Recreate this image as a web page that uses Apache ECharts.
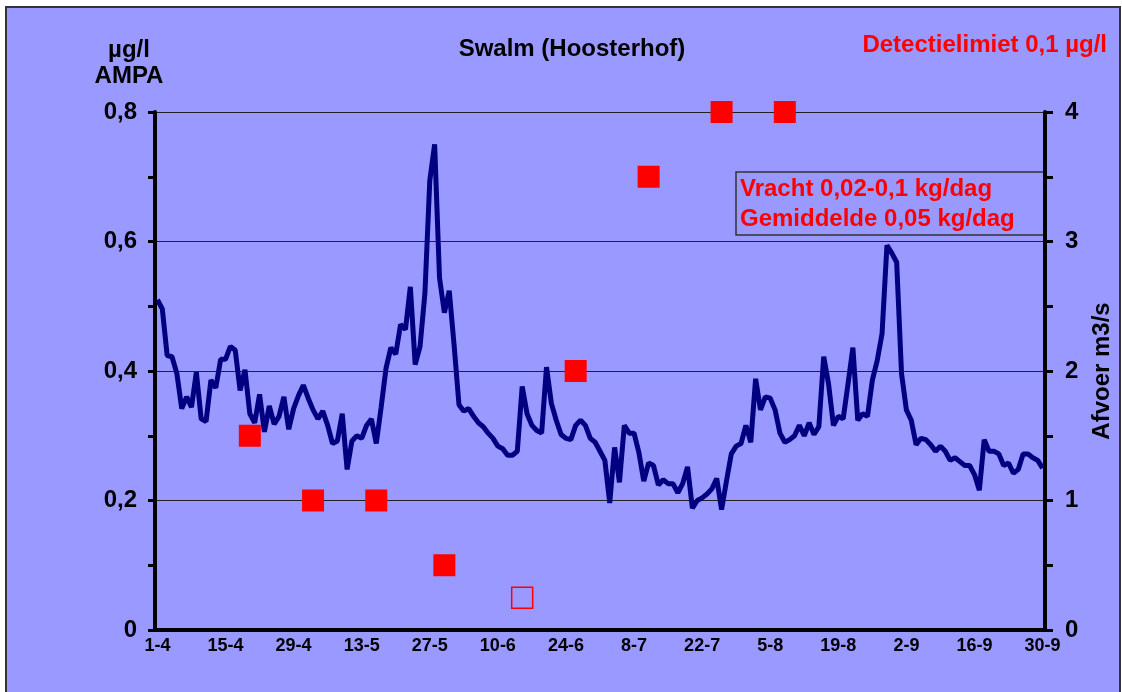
<!DOCTYPE html>
<html>
<head>
<meta charset="utf-8">
<script src="https://cdn.jsdelivr.net/npm/echarts@6/dist/echarts.min.js"></script>
<style>
  html, body { margin: 0; padding: 0; background: #fff; }
  #chart { width: 1122px; height: 692px; }
</style>
</head>
<body>
<div id="chart"></div>
<script>
// dagen 1-4 t/m 30-9
const months = [[4, 30], [5, 31], [6, 30], [7, 31], [8, 31], [9, 30]];
const days = [];
months.forEach(([m, n]) => {
  for (let d = 1; d <= n; d++) days.push(d + "-" + m);
});

// afvoer m3/s, per dag
const afvoer = [
  2.55, 2.48, 2.12, 2.11, 1.98, 1.71, 1.80, 1.72, 1.99, 1.63,
  1.61, 1.93, 1.87, 2.09, 2.09, 2.19, 2.16, 1.85, 2.01, 1.67,
  1.60, 1.82, 1.53, 1.73, 1.59, 1.65, 1.80, 1.55, 1.71, 1.81,
  1.89, 1.79, 1.70, 1.63, 1.69, 1.58, 1.44, 1.46, 1.67, 1.24,
  1.46, 1.50, 1.48, 1.58, 1.63, 1.44, 1.72, 2.02, 2.18, 2.13,
  2.36, 2.32, 2.65, 2.05, 2.19, 2.60, 3.47, 3.75, 2.72, 2.45,
  2.62, 2.20, 1.74, 1.69, 1.71, 1.65, 1.60, 1.57, 1.52, 1.48,
  1.42, 1.40, 1.35, 1.35, 1.38, 1.88, 1.67, 1.58, 1.54, 1.52,
  2.03, 1.75, 1.62, 1.51, 1.48, 1.47, 1.58, 1.62, 1.58, 1.48,
  1.45, 1.38, 1.31, 0.98, 1.41, 1.14, 1.58, 1.52, 1.52, 1.37,
  1.15, 1.29, 1.27, 1.12, 1.16, 1.13, 1.13, 1.06, 1.13, 1.26,
  0.94, 1.00, 1.02, 1.05, 1.09, 1.17, 0.93, 1.15, 1.36, 1.42,
  1.44, 1.58, 1.45, 1.94, 1.70, 1.80, 1.79, 1.70, 1.52, 1.45,
  1.47, 1.50, 1.58, 1.50, 1.60, 1.51, 1.57, 2.11, 1.90, 1.58,
  1.65, 1.63, 1.90, 2.18, 1.62, 1.67, 1.65, 1.93, 2.08, 2.29,
  2.97, 2.91, 2.84, 1.98, 1.70, 1.62, 1.43, 1.48, 1.47, 1.43,
  1.38, 1.42, 1.38, 1.31, 1.33, 1.30, 1.27, 1.27, 1.20, 1.08,
  1.47, 1.38, 1.38, 1.36, 1.27, 1.29, 1.21, 1.24, 1.36, 1.36,
  1.33, 1.31, 1.25
];

// AMPA metingen (µg/l)
const ampaDates = ["20-4", "3-5", "16-5", "30-5", "26-6", "11-7", "26-7", "8-8"];
const ampaValues = [0.3, 0.2, 0.2, 0.1, 0.4, 0.7, 0.8, 0.8];
// onder detectielimiet
const belowDates = ["15-6"];
const belowValues = [0.05];

const font = "'Liberation Sans', Arial, sans-serif";
const chart = echarts.init(document.getElementById("chart"));

const option = {
  backgroundColor: "#fff",
  animation: false,
  textStyle: { fontFamily: font },
  title: {
    text: "Swalm (Hoosterhof)",
    left: 567,
    top: 32,
    textAlign: "center",
    textStyle: { fontFamily: font, fontSize: 24, fontWeight: "bold", color: "#000" },
  },
  graphic: [
    {
      type: "rect",
      z: -100,
      shape: { x: 6, y: 7, width: 1114, height: 700 },
      style: { fill: "#9999FF", stroke: "#333", lineWidth: 2 },
    },
    {
      type: "text",
      x: 129,
      y: 63,
      style: {
        text: "µg/l\nAMPA",
        font: "bold 24px " + font,
        lineHeight: 26,
        fill: "#000",
        align: "center",
        verticalAlign: "middle",
      },
    },
    {
      type: "text",
      x: 1107,
      y: 45,
      style: {
        text: "Detectielimiet 0,1 µg/l",
        font: "bold 24px " + font,
        fill: "#ff0000",
        align: "right",
        verticalAlign: "middle",
      },
    },
    {
      type: "rect",
      shape: { x: 736, y: 172, width: 308, height: 63 },
      style: { fill: "none", stroke: "#333", lineWidth: 1.5 },
    },
    {
      type: "text",
      x: 740,
      y: 189,
      style: {
        text: "Vracht 0,02-0,1 kg/dag",
        font: "bold 24px " + font,
        fill: "#ff0000",
        verticalAlign: "middle",
      },
    },
    {
      type: "text",
      x: 740,
      y: 219,
      style: {
        text: "Gemiddelde 0,05 kg/dag",
        font: "bold 24px " + font,
        fill: "#ff0000",
        verticalAlign: "middle",
      },
    },
  ],
  grid: { left: 155, right: 70, top: 112, bottom: 62 },
  xAxis: {
    type: "category",
    data: days,
    boundaryGap: true,
    axisLine: { lineStyle: { color: "#000", width: 4 } },
    axisTick: { interval: 13, length: 6, lineStyle: { color: "#000", width: 3 } },
    axisLabel: {
      interval: 13,
      margin: 7,
      color: "#000",
      fontFamily: font,
      fontSize: 18,
      fontWeight: "bold",
    },
    splitLine: { show: false },
  },
  yAxis: [
    {
      type: "value",
      min: 0,
      max: 0.8,
      interval: 0.2,
      position: "left",
      axisLine: { show: true, lineStyle: { color: "#000", width: 4 } },
      axisTick: { show: true, length: 7, lineStyle: { color: "#000", width: 3 } },
      minorTick: { show: true, splitNumber: 2, length: 7, lineStyle: { color: "#000", width: 3 } },
      axisLabel: {
        margin: 18,
        color: "#000",
        fontFamily: font,
        fontSize: 24,
        fontWeight: "bold",
        formatter: (v) => (v === 0 ? "0" : v.toFixed(1).replace(".", ",")),
      },
      splitLine: { show: true, lineStyle: { color: "#222", width: 1 } },
    },
    {
      type: "value",
      min: 0,
      max: 4,
      interval: 1,
      position: "right",
      name: "Afvoer m3/s",
      nameLocation: "middle",
      nameRotate: 90,
      nameGap: 45,
      nameTextStyle: { color: "#000", fontFamily: font, fontSize: 24, fontWeight: "bold" },
      axisLine: { show: true, lineStyle: { color: "#000", width: 4 } },
      axisTick: { show: true, length: 8, lineStyle: { color: "#000", width: 3 } },
      minorTick: { show: true, splitNumber: 2, length: 8, lineStyle: { color: "#000", width: 3 } },
      axisLabel: {
        margin: 20,
        color: "#000",
        fontFamily: font,
        fontSize: 24,
        fontWeight: "bold",
      },
      splitLine: { show: false },
    },
  ],
  series: [
    {
      name: "Afvoer",
      type: "line",
      yAxisIndex: 1,
      data: afvoer,
      symbol: "none",
      lineStyle: { color: "#000080", width: 5 },
      z: 2,
    },
    {
      name: "AMPA",
      type: "scatter",
      yAxisIndex: 0,
      data: ampaDates.map((d, i) => [d, ampaValues[i]]),
      symbol: "rect",
      symbolSize: 22,
      itemStyle: { color: "#ff0000", opacity: 1 },
      clip: false,
      z: 3,
    },
    {
      name: "AMPA < detectielimiet",
      type: "scatter",
      yAxisIndex: 0,
      data: belowDates.map((d, i) => [d, belowValues[i]]),
      symbol: "rect",
      symbolSize: 21,
      itemStyle: { color: "rgba(0,0,0,0)", borderColor: "#ff0000", borderWidth: 1.5, opacity: 1 },
      z: 3,
    },
  ],
};

chart.setOption(option);
window.onresize = function () {
  chart.resize();
};
</script>
</body>
</html>
